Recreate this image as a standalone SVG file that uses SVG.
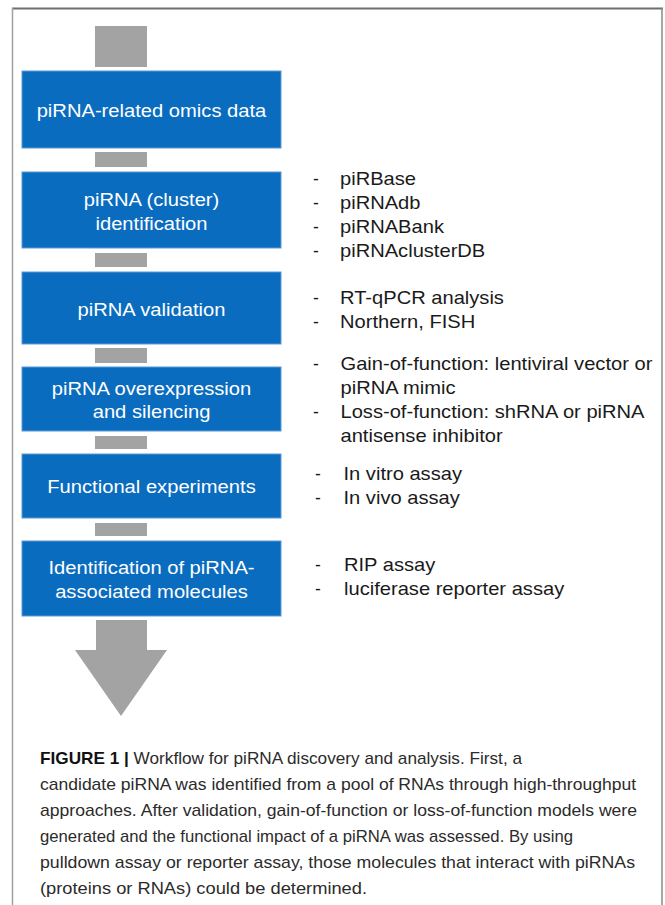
<svg xmlns="http://www.w3.org/2000/svg" width="665" height="905" viewBox="0 0 665 905">
<style>
.box{fill:#0a6cbf;stroke:#5a9ad6;stroke-width:1}
.bar{fill:#a3a3a3}
.bt{font-family:"Liberation Sans",Arial,sans-serif;font-size:18.5px;fill:#ffffff;text-anchor:middle}
.lt{font-family:"Liberation Sans",Arial,sans-serif;font-size:17.5px;fill:#1a1a1a}
.cap{font-family:"Liberation Sans",Arial,sans-serif;font-size:17px;fill:#2b2b2b}
.capb{font-weight:bold;fill:#111}
</style>
<rect x="0" y="0" width="665" height="905" fill="#ffffff"/>
<g id="frame" fill="none">
<line x1="12" y1="8.5" x2="663" y2="8.5" stroke="#6e6e6e" stroke-width="2"/>
<line x1="12.5" y1="8" x2="12.5" y2="905" stroke="#a0a0a0" stroke-width="1.5"/>
<line x1="662" y1="8" x2="662" y2="905" stroke="#8a8a8a" stroke-width="1.5"/>
</g>
<g id="connectors">
<rect class="bar" x="95" y="26" width="52" height="41"/>
<rect class="bar" x="95" y="152" width="52" height="15"/>
<rect class="bar" x="95" y="253" width="52" height="14"/>
<rect class="bar" x="95" y="348" width="52" height="15"/>
<rect class="bar" x="95" y="436" width="52" height="13"/>
<rect class="bar" x="95" y="523" width="52" height="13"/>
<polygon class="bar" points="96,620 147,620 147,650 167,650 121,716 75,650 96,650"/>
</g>
<g id="node-omics">
<rect class="box" x="22" y="71" width="259" height="77"/>
<g transform="translate(151.5,0) scale(1.09,1)"><text class="bt" x="0" y="117.5">piRNA-related omics data</text></g>
</g>
<g id="node-identification">
<rect class="box" x="22" y="172" width="259" height="76"/>
<g transform="translate(151.5,0) scale(1.09,1)"><text class="bt" x="0" y="206.5">piRNA (cluster)</text><text class="bt" x="0" y="230">identification</text></g>
</g>
<g id="node-validation">
<rect class="box" x="22" y="272" width="259" height="72"/>
<g transform="translate(151.5,0) scale(1.09,1)"><text class="bt" x="0" y="316">piRNA validation</text></g>
</g>
<g id="node-overexpression">
<rect class="box" x="22" y="367" width="259" height="64"/>
<g transform="translate(151.5,0) scale(1.09,1)"><text class="bt" x="0" y="395">piRNA overexpression</text><text class="bt" x="0" y="418.5">and silencing</text></g>
</g>
<g id="node-functional">
<rect class="box" x="22" y="454" width="259" height="64"/>
<g transform="translate(151.5,0) scale(1.09,1)"><text class="bt" x="0" y="493">Functional experiments</text></g>
</g>
<g id="node-associated">
<rect class="box" x="22" y="541" width="259" height="75"/>
<g transform="translate(151.5,0) scale(1.09,1)"><text class="bt" x="0" y="574.5">Identification of piRNA-</text><text class="bt" x="0" y="598.5">associated molecules</text></g>
</g>
<g id="list-identification">
<text class="lt" x="313" y="185">-</text><text class="lt" x="313" y="209">-</text><text class="lt" x="313" y="233">-</text><text class="lt" x="313" y="257">-</text>
<g transform="translate(340,0) scale(1.15,1)">
<text class="lt" x="0" y="185">piRBase</text>
<text class="lt" x="0" y="209">piRNAdb</text>
<text class="lt" x="0" y="233">piRNABank</text>
<text class="lt" x="0" y="257">piRNAclusterDB</text>
</g>
</g>
<g id="list-validation">
<text class="lt" x="313" y="304">-</text><text class="lt" x="313" y="328">-</text>
<g transform="translate(340,0) scale(1.15,1)">
<text class="lt" x="0" y="304">RT-qPCR analysis</text>
<text class="lt" x="0" y="328">Northern, FISH</text>
</g>
</g>
<g id="list-overexpression">
<text class="lt" x="313" y="370">-</text><text class="lt" x="313" y="418">-</text>
<g transform="translate(340.5,0) scale(1.15,1)">
<text class="lt" x="0" y="370">Gain-of-function: lentiviral vector or</text>
<text class="lt" x="0" y="394">piRNA mimic</text>
<text class="lt" x="0" y="418">Loss-of-function: shRNA or piRNA</text>
<text class="lt" x="0" y="442">antisense inhibitor</text>
</g>
</g>
<g id="list-functional">
<text class="lt" x="315" y="480">-</text><text class="lt" x="315" y="504">-</text>
<g transform="translate(343.5,0) scale(1.15,1)">
<text class="lt" x="0" y="480">In vitro assay</text>
<text class="lt" x="0" y="504">In vivo assay</text>
</g>
</g>
<g id="list-associated">
<text class="lt" x="315" y="571">-</text><text class="lt" x="315" y="595">-</text>
<g transform="translate(344,0) scale(1.15,1)">
<text class="lt" x="0" y="571">RIP assay</text>
<text class="lt" x="0" y="595">luciferase reporter assay</text>
</g>
</g>
<g id="caption">
<text class="cap" x="40" y="764" textLength="482" lengthAdjust="spacingAndGlyphs"><tspan class="capb">FIGURE 1 |</tspan> Workflow for piRNA discovery and analysis. First, a</text>
<text class="cap" x="40" y="790" textLength="596" lengthAdjust="spacingAndGlyphs">candidate piRNA was identified from a pool of RNAs through high-throughput</text>
<text class="cap" x="40" y="816" textLength="597" lengthAdjust="spacingAndGlyphs">approaches. After validation, gain-of-function or loss-of-function models were</text>
<text class="cap" x="40" y="842" textLength="533" lengthAdjust="spacingAndGlyphs">generated and the functional impact of a piRNA was assessed. By using</text>
<text class="cap" x="40" y="868" textLength="595" lengthAdjust="spacingAndGlyphs">pulldown assay or reporter assay, those molecules that interact with piRNAs</text>
<text class="cap" x="40" y="894" textLength="327" lengthAdjust="spacingAndGlyphs">(proteins or RNAs) could be determined.</text>
</g>
</svg>
